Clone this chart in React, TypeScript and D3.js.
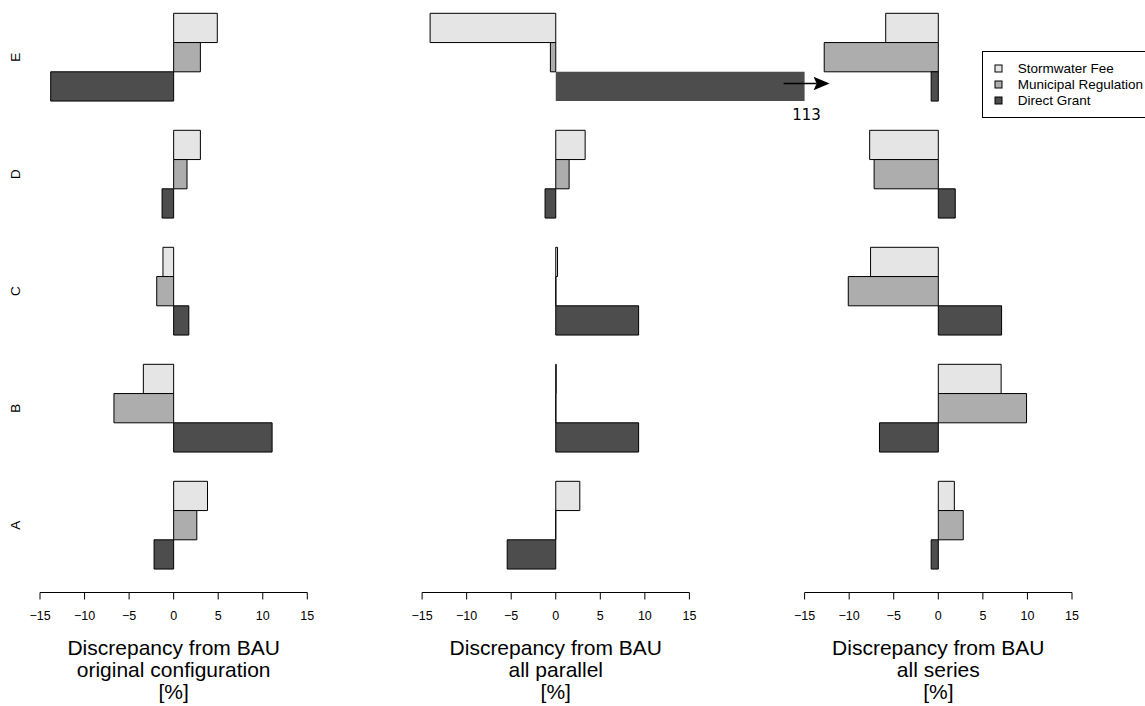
import React from "react";
import * as d3 from "d3";

const categories = ["A", "B", "C", "D", "E"];
const seriesNames = ["Stormwater Fee", "Municipal Regulation", "Direct Grant"];
const seriesColors = ["#e5e5e5", "#adadad", "#4d4d4d"];
const tickValues = [-15, -10, -5, 0, 5, 10, 15];

// values per category A..E
const originalStorm = [3.8, -3.4, -1.2, 3.0, 4.9];
const originalMuni = [2.6, -6.7, -1.9, 1.5, 3.0];
const originalDirect = [-2.2, 11.05, 1.7, -1.3, -13.8];

const parallelStorm = [2.7, 0.05, 0.2, 3.3, -14.1];
const parallelMuni = [0.0, 0.02, 0.02, 1.5, -0.6];
const parallelDirect = [-5.45, 9.3, 9.3, -1.2, 113];

const seriesStorm = [1.8, 7.05, -7.6, -7.7, -5.9];
const seriesMuni = [2.8, 9.9, -10.1, -7.2, -12.8];
const seriesDirect = [-0.8, -6.6, 7.1, 1.9, -0.8];

const panelTitles = [
  ["Discrepancy from BAU", "original configuration", "[%]"],
  ["Discrepancy from BAU", "all parallel", "[%]"],
  ["Discrepancy from BAU", "all series", "[%]"],
];

const panels = [
  [originalStorm, originalMuni, originalDirect],
  [parallelStorm, parallelMuni, parallelDirect],
  [seriesStorm, seriesMuni, seriesDirect],
];

const W = 1145;
const H = 706;
const panelRanges: [number, number][] = [
  [40, 307.3],
  [422.1, 689.4],
  [804.6, 1072],
];
const axisY = 592.5;
const font = "'Liberation Sans', Arial, Helvetica, sans-serif";

export default function App() {
  const y = d3.scaleLinear().domain([0, 20]).range([598.3, 13.3]);
  const xScales = panelRanges.map((r) => d3.scaleLinear().domain([-15, 15]).range(r));
  const clipMaxX = xScales[2](-15);

  return (
    <svg
      width={W}
      height={H}
      viewBox={`0 0 ${W} ${H}`}
      style={{ position: "absolute", left: 0, top: 0, background: "#fff" }}
    >
      <rect x={0} y={0} width={W} height={H} fill="#fff" />
      {categories.map((c, i) => {
        const cy = y(4 * i + 2.5);
        return (
          <text
            key={c}
            transform={`translate(20,${cy}) rotate(-90)`}
            textAnchor="middle"
            fontFamily={font}
            fontSize={13.5}
            fill="#000"
          >
            {c}
          </text>
        );
      })}
      {panels.map((pdata, pi) => {
        const x = xScales[pi];
        let ov: { value: number; yc: number; x1: number } | null = null;
        const bars: React.ReactNode[] = [];
        pdata.forEach((vals, si) => {
          vals.forEach((v, ci) => {
            const u0 = 4 * ci + 1 + (2 - si);
            const yTop = y(u0 + 1);
            const yBot = y(u0);
            const x0 = x(0);
            let x1 = x(v);
            let clipped = false;
            if (x1 > clipMaxX && pi < 2) {
              x1 = clipMaxX;
              clipped = true;
              ov = { value: v, yc: (yTop + yBot) / 2, x1 };
            }
            const d = `M${x0},${yTop}H${x1}V${yBot}H${x0}Z`;
            bars.push(
              <path
                key={`${si}-${ci}`}
                d={d}
                fill={seriesColors[si]}
                stroke={clipped ? "none" : "#000"}
                strokeWidth={1}
              />
            );
          });
        });
        const o = ov as { value: number; yc: number; x1: number } | null;
        return (
          <g key={pi}>
            {bars}
            {o && (
              <g>
                <line
                  x1={o.x1 - 21}
                  x2={o.x1 + 12}
                  y1={o.yc - 3}
                  y2={o.yc - 3}
                  stroke="#000"
                  strokeWidth={1.5}
                />
                <path
                  d={`M${o.x1 + 25},${o.yc - 3} L${o.x1 + 9},${o.yc - 9.7} L${o.x1 + 12},${o.yc - 3} L${o.x1 + 9},${o.yc + 3.7} Z`}
                  fill="#000"
                />
                <text
                  x={o.x1 + 2}
                  y={120}
                  textAnchor="middle"
                  fontFamily="'DejaVu Sans', sans-serif"
                  fontSize={15}
                  fill="#000"
                >
                  {o.value}
                </text>
              </g>
            )}
            <line x1={x(-15)} x2={x(15)} y1={axisY} y2={axisY} stroke="#000" strokeWidth={1} />
            {tickValues.map((t) => (
              <g key={t}>
                <line x1={x(t)} x2={x(t)} y1={axisY} y2={axisY + 7} stroke="#000" strokeWidth={1} />
                <text
                  x={x(t)}
                  y={620}
                  textAnchor="middle"
                  fontFamily={font}
                  fontSize={12.5}
                  fill="#000"
                >
                  {t < 0 ? `\u2212${Math.abs(t)}` : `${t}`}
                </text>
              </g>
            ))}
            {panelTitles[pi].map((line, li) => (
              <text
                key={li}
                x={x(0)}
                y={655 + li * 22}
                textAnchor="middle"
                fontFamily={font}
                fontSize={21}
                fill="#000"
              >
                {line}
              </text>
            ))}
          </g>
        );
      })}
      <rect x={982.5} y={51.5} width={180} height={66} fill="#fff" stroke="#000" strokeWidth={1} />
      {seriesNames.map((s, i) => (
        <g key={s}>
          <rect
            x={995}
            y={65 + i * 16}
            width={7}
            height={7}
            fill={seriesColors[i]}
            stroke="#000"
            strokeWidth={1}
          />
          <text x={1017.7} y={72.8 + i * 16} fontFamily={font} fontSize={13.5} fill="#000">
            {s}
          </text>
        </g>
      ))}
    </svg>
  );
}
